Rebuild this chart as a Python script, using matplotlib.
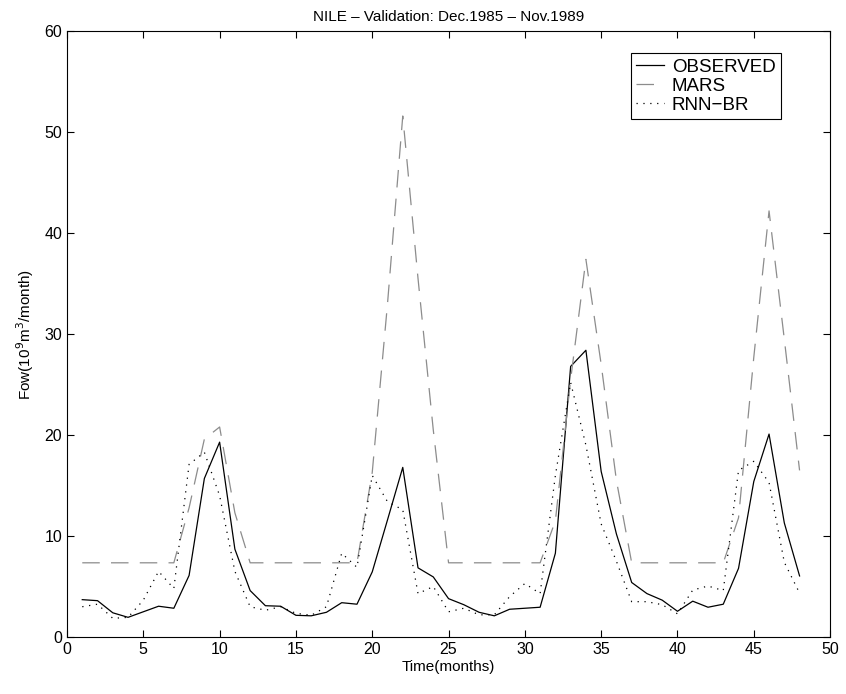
#!/usr/bin/env python3

from matplotlib import pyplot as plt
import matplotlib
import numpy as np


FIGSIZE = (8.46, 6.94)

months = np.arange(1, 49)

observed = [3.7, 3.6, 2.4, 1.95, 2.5, 3.05, 2.85, 6.1, 15.7, 19.3,
            8.7, 4.6, 3.1, 3.05, 2.15, 2.1, 2.45, 3.4, 3.25, 6.45,
            11.6, 16.8, 6.85, 5.95, 3.8, 3.2, 2.45, 2.1, 2.75, 2.85,
            2.95, 8.3, 26.8, 28.4, 16.4, 10.2, 5.4, 4.3, 3.65, 2.55,
            3.55, 2.95, 3.25, 6.8, 15.4, 20.1, 11.3, 6.05]

mars = [7.35, 7.35, 7.35, 7.35, 7.35, 7.35, 7.35, 12.8, 19.6, 20.8,
        12.3, 7.35, 7.35, 7.35, 7.35, 7.35, 7.35, 7.35, 7.35, 16.3,
        33.0, 51.6, 35.5, 20.5, 7.35, 7.35, 7.35, 7.35, 7.35, 7.35,
        7.35, 11.5, 25.5, 37.4, 27.0, 15.5, 7.35, 7.35, 7.35, 7.35,
        7.35, 7.35, 7.35, 11.8, 27.7, 42.2, 29.5, 16.5]

rnn_br = [3.0, 3.25, 1.85, 1.95, 3.65, 6.5, 4.8, 17.1, 18.3, 14.0,
          6.5, 3.0, 2.65, 3.0, 2.35, 2.15, 3.0, 8.3, 6.9, 16.0,
          13.4, 12.6, 4.3, 5.0, 2.5, 2.85, 2.2, 2.2, 4.0, 5.3,
          4.3, 16.0, 25.2, 19.0, 11.2, 7.5, 3.5, 3.5, 3.2, 2.3,
          4.65, 5.05, 4.6, 16.5, 17.4, 15.3, 7.4, 4.35]


def setup():
    matplotlib.rcParams.update({
        "font.family": ["Liberation Sans", "DejaVu Sans"],
        "font.size": 11,
        "xtick.direction": "in",
        "ytick.direction": "in",
        "xtick.top": True,
        "ytick.right": True,
        "xtick.major.size": 5,
        "ytick.major.size": 5,
        "axes.linewidth": 0.8,
    })


def plot_nile():
    fig = plt.figure(figsize=FIGSIZE, dpi=100)
    ax = fig.add_axes([0.0792, 0.0821, 0.902, 0.873])

    ax.plot(months, observed, "-", color="black", lw=0.9, label="OBSERVED")
    ax.plot(months, mars, color="#8c8c8c", lw=0.9, linestyle=(0, (14, 9)),
            label="MARS")
    ax.plot(months, rnn_br, color="black", lw=0.9, linestyle=(0, (1, 4.5)),
            label="RNN\u2212BR")

    ax.set_xlim(0, 50)
    ax.set_ylim(0, 60)
    ax.set_xticks(np.arange(0, 51, 5))
    ax.set_yticks(np.arange(0, 61, 10))
    ax.tick_params(labelsize=11.5)
    ax.set_xlabel("Time(months)", labelpad=2)
    ax.set_ylabel(r"Fow(10$^9$m$^3$/month)", labelpad=6)
    ax.set_title("NILE \u2013 Validation: Dec.1985 \u2013 Nov.1989",
                 fontsize=11, pad=7)

    leg = ax.legend(loc="upper right", bbox_to_anchor=(0.936, 0.964),
                    fancybox=False, framealpha=1, edgecolor="black",
                    handlelength=1.5, borderpad=0.3, labelspacing=0.1,
                    handletextpad=0.4, borderaxespad=0, fontsize=13.5)
    leg.get_frame().set_linewidth(0.8)
    return fig


def main():
    setup()
    fig = plot_nile()
    fig.savefig("out.png", dpi=100)


if __name__ == "__main__":
    main()
